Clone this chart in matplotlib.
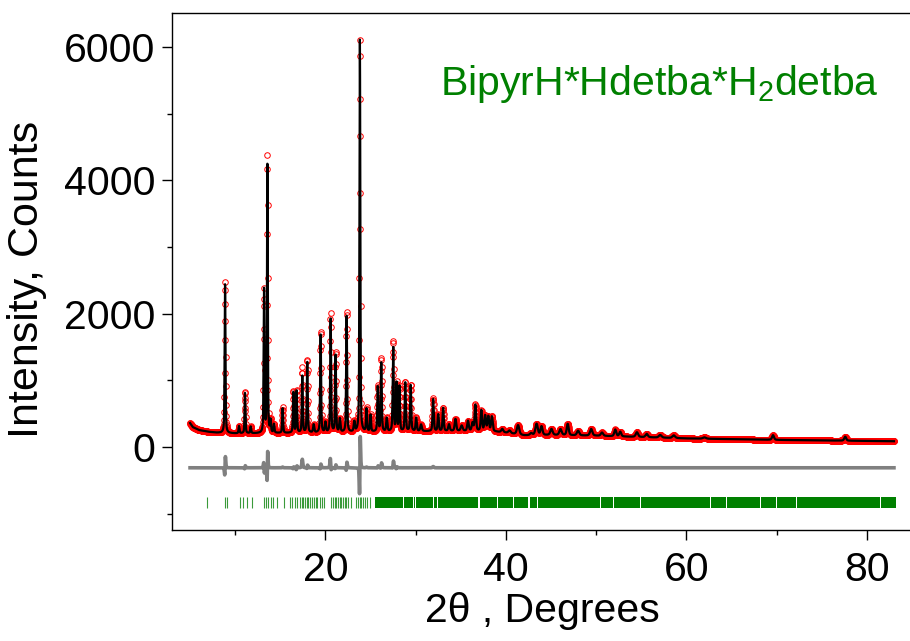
import numpy as np
import matplotlib
matplotlib.use("Agg")
import matplotlib.pyplot as plt
from matplotlib.ticker import MultipleLocator

# Reflection profile parameters (2theta in degrees, counts)
peak_pos = [8.88, 10.43, 11.09, 11.72, 13.20, 13.57, 13.92, 14.30, 15.26, 16.45,
            16.81, 17.44, 17.99, 18.70, 19.47, 20.00, 20.58, 21.13, 21.60, 22.35,
            23.20, 23.82, 24.56, 25.00, 25.80, 26.19, 26.80, 27.51, 27.88, 28.20,
            28.85, 29.45, 30.06, 30.60, 31.94, 32.50, 33.05, 33.70, 34.41, 35.10,
            35.80, 36.30, 36.62, 37.28, 37.70, 38.05, 38.45, 39.60, 40.40, 41.35,
            42.80, 43.40, 43.95, 45.05, 46.05, 46.85, 48.00, 49.45, 50.65, 52.12,
            52.67, 54.52, 55.60, 57.10, 58.60, 62.00, 69.60, 77.60]
peak_height = [2230, 110, 620, 100, 2150, 4150, 180, 130, 370, 620,
               640, 850, 1080, 120, 1500, 150, 1700, 1180, 200, 1780,
               150, 5880, 340, 250, 670, 1050, 200, 1280, 720, 670,
               740, 700, 200, 100, 480, 250, 350, 100, 180, 80,
               150, 120, 390, 310, 230, 220, 220, 50, 40, 140,
               30, 170, 130, 90, 90, 170, 70, 100, 50, 100,
               70, 70, 50, 40, 40, 20, 70, 60]
peak_fwhm = [0.11, 0.12, 0.11, 0.12, 0.11, 0.10, 0.12, 0.12, 0.12, 0.12,
             0.12, 0.12, 0.12, 0.15, 0.12, 0.15, 0.12, 0.12, 0.15, 0.12,
             0.15, 0.11, 0.13, 0.13, 0.13, 0.13, 0.15, 0.13, 0.13, 0.13,
             0.14, 0.14, 0.15, 0.20, 0.15, 0.15, 0.15, 0.20, 0.20, 0.25,
             0.20, 0.20, 0.18, 0.18, 0.20, 0.20, 0.20, 0.25, 0.30, 0.30,
             0.30, 0.30, 0.25, 0.30, 0.30, 0.25, 0.30, 0.30, 0.30, 0.25,
             0.25, 0.30, 0.30, 0.35, 0.35, 0.40, 0.25, 0.25]
# observed / calculated misfit per reflection
obs_ratio = [1.02, 1.00, 1.02, 1.00, 1.00, 1.01, 1.00, 1.00, 1.03, 1.00,
             1.00, 1.15, 1.02, 1.00, 1.02, 1.00, 1.05, 1.02, 1.00, 1.02,
             1.00, 1.01, 1.03, 1.00, 1.03, 1.05, 1.00, 1.06, 1.00, 1.00,
             1.00, 1.00, 1.00, 1.00, 1.04, 1.00, 1.00, 1.00, 1.00, 1.00,
             1.00, 1.00, 1.00, 1.00, 1.00, 1.00, 1.00, 1.00, 1.00, 1.00,
             1.00, 1.00, 1.00, 1.00, 1.00, 1.00, 1.00, 1.00, 1.00, 1.00,
             1.00, 1.00, 1.00, 1.00, 1.00, 1.00, 1.00, 1.00]
obs_shift = [0.005, 0, 0.003, 0, -0.003, 0.004, 0, 0, 0, 0.002,
             0.004, 0, 0.002, 0, 0.002, 0, -0.004, 0.002, 0, 0.003,
             0, 0.006, 0, 0, 0.002, 0.003, 0, 0.003, 0.002, 0,
             0, 0, 0, 0, 0, 0, 0, 0, 0, 0,
             0, 0, 0, 0, 0, 0, 0, 0, 0, 0,
             0, 0, 0, 0, 0, 0, 0, 0, 0, 0,
             0, 0, 0, 0, 0, 0, 0, 0]

bg_pos = [5.0, 5.3, 6.0, 7.0, 8.0, 10.0, 13.0, 16.0, 20.0, 25.0, 30.0, 35.0,
          38.5, 40.0, 42.0, 45.0, 50.0, 55.0, 60.0, 70.0, 83.0]
bg_counts = [360, 300, 255, 230, 215, 205, 205, 210, 215, 225, 235, 240,
             235, 215, 175, 180, 170, 150, 130, 108, 88]

# Bragg reflection markers: resolved ticks, then dense bands
tick_pos = [6.93, 8.88, 9.06, 10.54, 10.91, 11.28, 11.83, 13.19, 13.46, 13.68,
            13.93, 14.23, 14.60, 15.41, 16.07, 16.34, 16.59, 16.89, 17.14, 17.37,
            17.55, 17.73, 17.92, 18.10, 18.29, 18.55, 18.73, 18.92, 19.10, 19.39,
            19.66, 19.83, 20.65, 20.83, 21.02, 21.20, 21.38, 21.57, 21.76, 21.94,
            22.12, 22.31, 22.53, 22.79, 23.42, 23.60, 23.78, 23.97, 24.15, 24.37,
            24.64, 24.89]
band_start = [25.45, 28.75, 29.31, 29.86, 30.04, 32.06, 32.46, 37.10, 39.08, 40.92,
              42.64, 43.51, 50.52, 51.99, 54.95, 57.90, 59.01, 62.70, 64.54, 68.23,
              70.08, 72.29, 81.51]
band_end = [28.65, 29.21, 29.76, 29.94, 31.96, 32.36, 36.90, 38.98, 40.82, 42.42,
            43.41, 50.42, 51.89, 54.85, 57.80, 58.91, 62.60, 64.44, 68.13, 69.98,
            72.19, 81.41, 83.20]
tick_lo, tick_hi = -920, -750
diff_offset = -310
step = 0.02


def pseudo_voigt(x, x0, h, w, eta=0.45):
    d = (x - x0) / (w / 2.0)
    return h * (eta / (1.0 + d ** 2) + (1.0 - eta) * np.exp(-np.log(2.0) * d ** 2))


tt = np.arange(5.0, 83.0 + step / 2, step)
bg = np.interp(tt, bg_pos, bg_counts)
calc = bg.copy()
obs = bg.copy()
for p, h, w, r, s in zip(peak_pos, peak_height, peak_fwhm, obs_ratio, obs_shift):
    calc += pseudo_voigt(tt, p, h, w)
    obs += pseudo_voigt(tt, p + s, h * r, w)
diff = obs - calc + diff_offset

plt.rcParams.update({
    "font.family": ["Liberation Sans", "DejaVu Sans"],
    "mathtext.fontset": "custom",
    "mathtext.rm": "Liberation Sans",
    "mathtext.it": "Liberation Sans:italic",
    "font.size": 29.5,
})

fig = plt.figure(figsize=(9.1, 6.41), dpi=100)
ax = fig.add_axes([172 / 910, 0.1724, 740 / 910, 0.8066])

ax.plot(tt, obs, linestyle="none", marker="o", markersize=4.0, markerfacecolor="none",
        markeredgecolor="red", markeredgewidth=0.7, zorder=2)
ax.plot(tt, calc, color="black", linewidth=1.6, zorder=3)
ax.plot(tt, diff, color="#808080", linewidth=2.6, zorder=2)
ax.vlines(tick_pos, tick_lo, tick_hi, color="#3a9a3a", linewidth=0.8)
ax.broken_barh([(a, b - a) for a, b in zip(band_start, band_end)],
               (tick_lo, tick_hi - tick_lo), facecolor="green", edgecolor="none")

ax.text(0.362, 0.842, "BipyrH*Hdetba*H$_2$detba", transform=ax.transAxes,
        color="green", fontsize=29.5, ha="left", va="baseline")

ax.set_xlim(3, 85)
ax.set_ylim(-1250, 6500)
ax.xaxis.set_major_locator(MultipleLocator(20))
ax.xaxis.set_minor_locator(MultipleLocator(10))
ax.yaxis.set_major_locator(MultipleLocator(2000))
ax.yaxis.set_minor_locator(MultipleLocator(1000))
ax.tick_params(which="major", direction="out", length=7, width=1.0, labelsize=29.5)
ax.tick_params(which="minor", direction="out", length=3.5, width=1.0)
ax.tick_params(axis="x", pad=8)
ax.tick_params(axis="y", pad=5)
for spine in ax.spines.values():
    spine.set_linewidth(1.0)

ax.set_xlabel("2\u03b8 , Degrees", fontsize=29.5)
ax.set_ylabel("Intensity, Counts", fontsize=31)
ax.xaxis.set_label_coords(0.5, -0.118)
ax.yaxis.set_label_coords(-0.169, 0.486)

fig.savefig("out.png", dpi=100)
